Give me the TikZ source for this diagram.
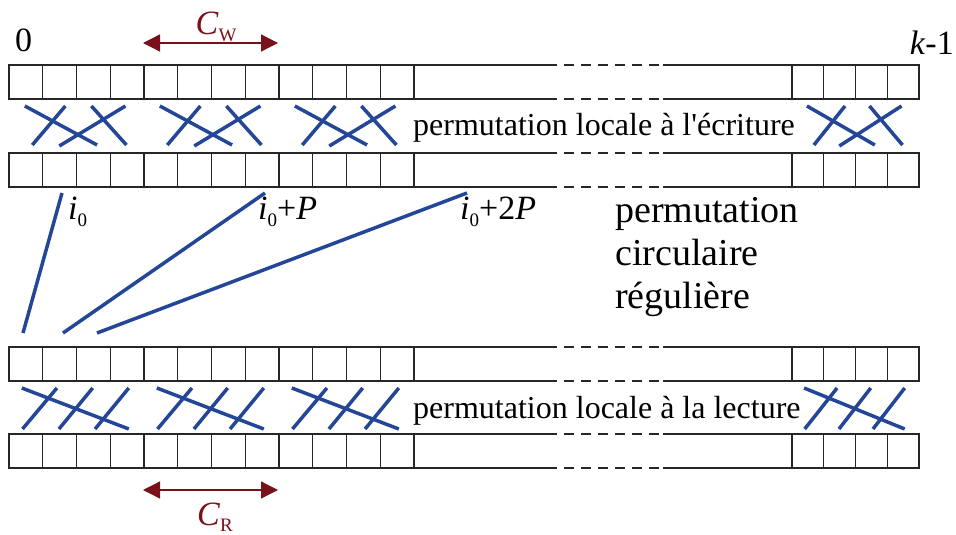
\documentclass[tikz,border=0pt]{standalone}
\usepackage{fontspec}
\setmainfont{Liberation Serif}
\usetikzlibrary{arrows.meta}

\definecolor{permblue}{RGB}{36,70,150}
\definecolor{dimred}{RGB}{122,16,26}

\newcommand{\lowsub}[2][7pt]{\raisebox{-#1}{\fontsize{19}{19}\selectfont #2}}

\begin{document}
\begin{tikzpicture}[
    x=1pt, y=-1pt,
    cell/.style  = {draw=black!85, line width=1.4pt, minimum width=33.75pt,
                    minimum height=34pt, inner sep=0pt, outer sep=0pt},
    celln/.style = {cell, minimum width=31.75pt},
    edge/.style  = {draw=black!85, line width=1.4pt},
    gap/.style   = {edge, dash pattern=on 10pt off 7pt},
    perm/.style  = {draw=permblue, line width=3.5pt},
    dim/.style   = {draw=dimred, line width=1.3pt,
                    {Triangle[length=17pt,width=17pt]}-{Triangle[length=17pt,width=17pt]}},
    lbl/.style   = {inner sep=0pt, font=\fontsize{32}{38}\selectfont},
    big/.style   = {inner sep=0pt, align=left, font=\fontsize{38}{43}\selectfont},
    idx/.style   = {inner sep=0pt, anchor=base west, font=\fontsize{34}{40}\selectfont},
    dimlab/.style= {inner sep=0pt, anchor=base, text=dimred, font=\fontsize{34}{40}\selectfont},
]
\useasboundingbox (0,0) rectangle (956,535);

%--- the four rows of cells
\foreach \r/\y in {a/82, b/170, c/364, d/451} {
  \foreach \i in {0,...,11}
    \node[cell] (\r\i) at ({9+33.75*(\i+0.5)},\y) {};
  \foreach \i in {12,...,15}
    \node[celln] (\r\i) at ({792+31.75*(\i-12+0.5)},\y) {};
  % long box between, with a dashed gap
  \draw[edge] (\r11.north east) -- ([xshift=133pt]\r11.north east);
  \draw[gap]  ([xshift=133pt]\r11.north east) -- ([xshift=-129pt]\r12.north west);
  \draw[edge] ([xshift=-129pt]\r12.north west) -- (\r12.north west);
  \draw[edge] (\r11.south east) -- ([xshift=133pt]\r11.south east);
  \draw[gap]  ([xshift=133pt]\r11.south east) -- ([xshift=-129pt]\r12.south west);
  \draw[edge] ([xshift=-129pt]\r12.south west) -- (\r12.south west);
}

%--- local permutations (write and read)
\foreach \x/\w in {9/33.75, 144/33.75, 279/33.75, 792/31.75} {
  \draw[perm] ({\x+0.47*\w},106) -- ({\x+2.61*\w},145);
  \draw[perm] ({\x+0.69*\w},145) -- ({\x+1.67*\w},106);
  \draw[perm] ({\x+1.49*\w},146) -- ({\x+3.45*\w},106);
  \draw[perm] ({\x+2.44*\w},106) -- ({\x+3.48*\w},145);
  \draw[perm] ({\x+0.38*\w},388) -- ({\x+3.55*\w},429);
  \draw[perm] ({\x+0.40*\w},429) -- ({\x+1.42*\w},388);
  \draw[perm] ({\x+1.48*\w},429) -- ({\x+2.48*\w},388);
  \draw[perm] ({\x+2.55*\w},429) -- ({\x+3.55*\w},388);
}

%--- circular permutation
\coordinate (s0) at (62,193);  \coordinate (t0) at (23,333);
\coordinate (s1) at (265,193); \coordinate (t1) at (63,333);
\coordinate (s2) at (467,193); \coordinate (t2) at (97,333);
\draw[perm] (s0) -- (t0);
\draw[perm] (s1) -- (t1);
\draw[perm] (s2) -- (t2);

\node[idx] (i0) at (68,219)  {\textit{i}\lowsub{0}};
\node[idx] (i1) at (258,219) {\textit{i}\lowsub{0}+\textit{P}};
\node[idx] (i2) at (460,219) {\textit{i}\lowsub{0}+2\textit{P}};

%--- texts
\node[idx] (zero) at (15,52) {0};
\node[idx, anchor=base east] (last) at (954,55) {\textit{k}-1};
\node[lbl, anchor=base west] (wlab) at (413,135) {permutation locale à l\textquotesingle écriture};
\node[lbl, anchor=base west] (rlab) at (413,418) {permutation locale à la lecture};
\node[big, anchor=base west] (circ) at (615,308) {permutation\\circulaire\\régulière};

%--- block sizes
\coordinate (cw1) at (143,43);  \coordinate (cw2) at (278,43);
\coordinate (cr1) at (143,490); \coordinate (cr2) at (278,490);
\draw[dim] (cw1) -- (cw2);
\draw[dim] (cr1) -- (cr2);
\node[dimlab] (cwlab) at (216,35)  {\textit{C}\lowsub[6pt]{W}};
\node[dimlab] (crlab) at (215,525) {\textit{C}\lowsub[6pt]{R}};

\end{tikzpicture}
\end{document}
